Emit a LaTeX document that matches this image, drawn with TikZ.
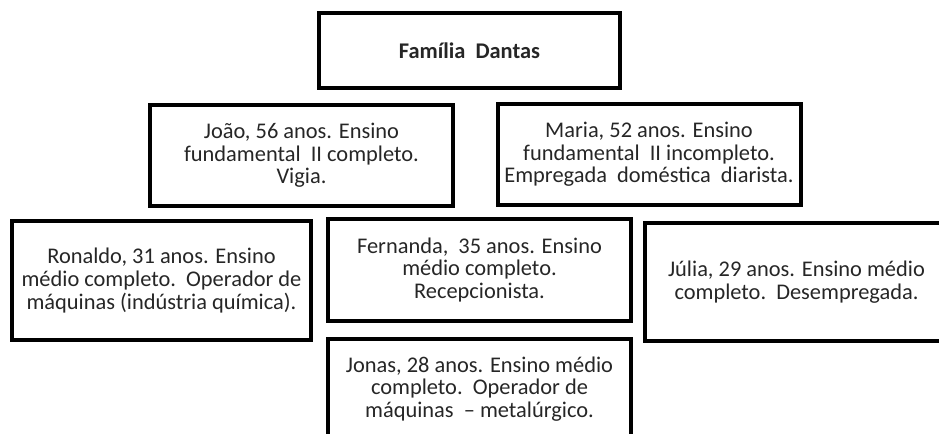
\documentclass[tikz,border=0pt]{standalone}
\usepackage{fontspec}
\setmainfont{Carlito}

\begin{document}
\begin{tikzpicture}[x=0.75pt,y=-0.75pt,
  caixa/.style={draw,line width=3pt,align=center,inner sep=0pt,
    text=black!85,font=\fontsize{16.8}{17}\selectfont}]
  \useasboundingbox (0,0) rectangle (939,433);
  \clip (0,0) rectangle (939,433);
  % title
  \node[caixa,minimum width=225.75pt,minimum height=56.25pt] (familia) at(469.5,50.5){\textbf{Família~~Dantas}};
  % parents
  \node[caixa,minimum width=227.25pt,minimum height=75.75pt] (joao) at(301.5,155.5){João, 56 anos. Ensino\\fundamental~~II completo.\\Vigia.};
  \node[caixa,minimum width=227.25pt,minimum height=75.75pt] (maria) at(649,154.5){Maria, 52 anos. Ensino\\fundamental~~II incompleto.\\Empregada~~doméstica~~diarista.};
  % children
  \node[caixa,minimum width=224.25pt,minimum height=89.25pt] (ronaldo) at(161.5,280.5){Ronaldo, 31 anos. Ensino\\médio completo.~~Operador de\\máquinas (indústria química).};
  \node[caixa,minimum width=227.25pt,minimum height=76.5pt] (fernanda) at(479.5,270){Fernanda,~~35 anos. Ensino\\médio completo.\\Recepcionista.};
  \node[caixa,minimum width=227.25pt,minimum height=88.5pt] (julia) at(796.5,282){Júlia, 29 anos. Ensino médio\\completo.~~Desempregada.};
  \node[caixa,minimum width=227.25pt,minimum height=75pt] (jonas) at(479.5,389){Jonas, 28 anos. Ensino médio\\completo.~~Operador de\\máquinas~~– metalúrgico.};
\end{tikzpicture}
\end{document}
